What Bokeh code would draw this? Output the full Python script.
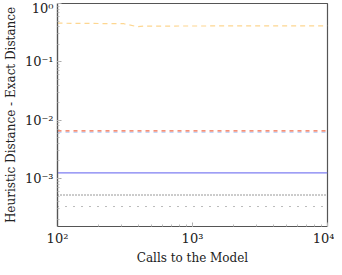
from bokeh.plotting import figure
from bokeh.models import Range1d, CustomJSTickFormatter
from bokeh.embed import file_html
from bokeh.resources import INLINE

# data
x_orange = [100, 310, 390, 440, 10000]
y_orange = [0.46, 0.45, 0.40, 0.41, 0.415]
x_flat = [100, 10000]
y_red = [0.00655, 0.00655]
y_lightblue = [0.0062, 0.0062]
y_blue = [0.00125, 0.00125]
y_black = [0.00052, 0.00052]
y_gray = [0.00033, 0.00033]

FONT = "DejaVu Serif"

p = figure(frame_width=270, frame_height=223, x_axis_type="log", y_axis_type="log",
           output_backend="svg", toolbar_location=None,
           x_range=Range1d(100, 10000), y_range=Range1d(1.5e-4, 1.0),
           min_border_left=49, min_border_right=7, min_border_top=3, min_border_bottom=0)

p.line(x_orange, y_orange, line_color="#fdd690", line_width=1.2, line_dash="5 4")
p.line(x_flat, y_lightblue, line_color="#afc8f5", line_width=1.2, line_dash="4 4")
p.line(x_flat, y_red, line_color="#f26b4a", line_width=1.2, line_dash="4 4")
p.line(x_flat, y_blue, line_color="#7e7ef2", line_width=1.2)
p.line(x_flat, y_black, line_color="#333333", line_width=1, line_dash="1 2")
p.line(x_flat, y_gray, line_color="#777777", line_width=1, line_dash="1 7")

fmt = CustomJSTickFormatter(code="""
const sup = {'-':'\u207b','0':'\u2070','1':'\u00b9','2':'\u00b2','3':'\u00b3','4':'\u2074','5':'\u2075','6':'\u2076','7':'\u2077','8':'\u2078','9':'\u2079'};
const e = Math.round(Math.log10(tick));
return '10' + String(e).split('').map(c => sup[c]).join('');
""")

for ax in (p.xaxis[0], p.yaxis[0]):
    ax.formatter = fmt
    ax.major_label_text_font = FONT
    ax.major_label_text_font_size = "13px"
    ax.major_label_text_color = "#222222"
    ax.axis_label_text_font = FONT
    ax.axis_label_text_font_size = "12px"
    ax.axis_label_text_font_style = "normal"
    ax.axis_label_text_color = "#222222"
    ax.major_tick_in = 4
    ax.major_tick_out = 0
    ax.minor_tick_in = 2
    ax.minor_tick_out = 0
    ax.major_tick_line_color = "#aaaaaa"
    ax.minor_tick_line_color = "#bbbbbb"
    ax.axis_line_color = "#555555"
    ax.axis_line_width = 1.2

p.xaxis.axis_label = "Calls to the Model"
p.yaxis.axis_label = "Heuristic Distance - Exact Distance"
p.xaxis.axis_label_standoff = 2
p.yaxis.axis_label_standoff = 4
p.yaxis.major_label_standoff = 4
p.xaxis.major_label_standoff = 4

p.xgrid.visible = False
p.ygrid.visible = False
p.outline_line_color = "#555555"
p.outline_line_width = 1.2
p.outline_line_alpha = 1.0
p.background_fill_color = "white"
p.border_fill_color = "white"

open("out.html", "w").write(file_html(p, INLINE))
